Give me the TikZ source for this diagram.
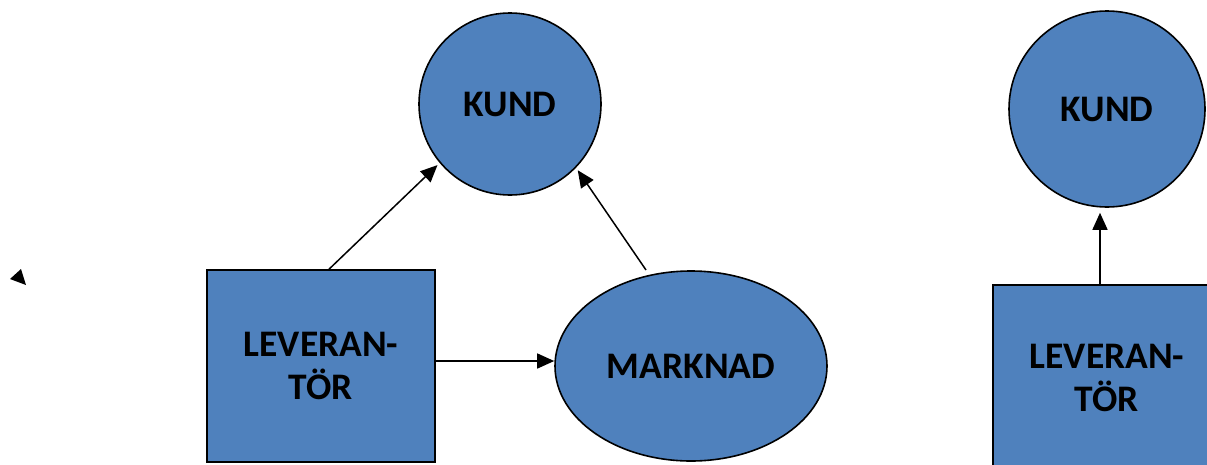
\documentclass[tikz,border=0pt]{standalone}
\usepackage{fontspec}
\setmainfont{Carlito}
\usetikzlibrary{shapes.geometric,arrows.meta}
\definecolor{boxblue}{HTML}{4F81BD}
\tikzset{
  shapebase/.style={draw=black, fill=boxblue, line width=1.6pt, inner sep=0pt,
    font=\fontsize{37.5}{43}\selectfont\bfseries, align=center, text=black},
  circ/.style={shapebase, circle},
  rectbox/.style={shapebase, rectangle, minimum width=228pt, minimum height=192pt},
  ellbox/.style={shapebase, ellipse},
  arr/.style={line width=1.5pt, -{Triangle[length=17pt,width=15pt]}},
}
\begin{document}
\begin{tikzpicture}[x=1pt,y=-1pt]
\useasboundingbox (0,0) rectangle (1207,464);
\clip (0,0) rectangle (1207,464);
% left group
\node[circ, minimum size=182pt] (kund1) at (510,104) {KUND};
\node[rectbox] (lev1) at (321,366) {LEVERAN-\\TÖR};
\node[ellbox, minimum width=272pt, minimum height=190pt] (mark) at (691,366) {MARKNAD};
\coordinate (mstart) at (646,270);
\draw[arr, shorten >=3pt] ([xshift=8pt]lev1.north) -- (kund1.220);
\draw[arr, shorten >=3pt] (mstart) -- (kund1.316);
\draw[arr] ([yshift=5pt]lev1.east) -- ([yshift=5pt]mark.west);
% stray arrowhead
\fill[black] (10,279) -- (21,269) -- (26,285) -- cycle;
% right group
\node[circ, minimum size=196pt] (kund2) at (1107,109) {KUND};
\node[rectbox, minimum height=186pt] (lev2) at (1107,378) {LEVERAN-\\TÖR};
\draw[arr, shorten >=5pt] ([xshift=-7pt]lev2.north) -- ([xshift=-7pt]lev2.north |- kund2.south);
\end{tikzpicture}
\end{document}
